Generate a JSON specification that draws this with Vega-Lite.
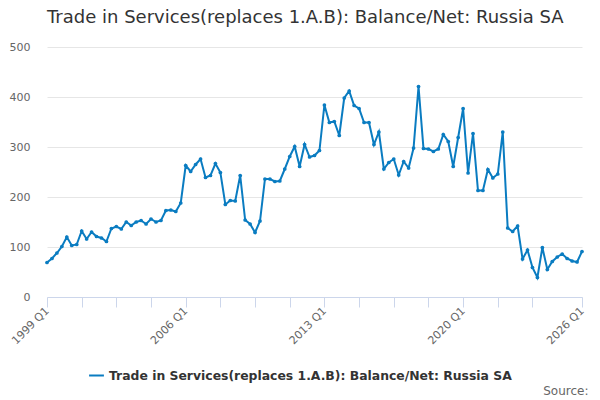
{
  "$schema": "https://vega.github.io/schema/vega-lite/v6.json",
  "autosize": "none",
  "width": 535,
  "height": 250,
  "padding": {"left": 47, "top": 47, "right": 18, "bottom": 103},
  "background": "white",
  "title": {
    "text": "Trade in Services(replaces 1.A.B): Balance/Net: Russia SA",
    "anchor": "start",
    "frame": "group",
    "font": "DejaVu Sans",
    "fontSize": 18,
    "fontWeight": "normal",
    "color": "#333333",
    "baseline": "alphabetic",
    "offset": 0
  },
  "data": {
    "values": [
      {"quarter": "1999 Q1", "value": 69}, {"quarter": "1999 Q2", "value": 77}, {"quarter": "1999 Q3", "value": 88}, {"quarter": "1999 Q4", "value": 101},
      {"quarter": "2000 Q1", "value": 120}, {"quarter": "2000 Q2", "value": 103}, {"quarter": "2000 Q3", "value": 105}, {"quarter": "2000 Q4", "value": 132},
      {"quarter": "2001 Q1", "value": 116}, {"quarter": "2001 Q2", "value": 130}, {"quarter": "2001 Q3", "value": 121}, {"quarter": "2001 Q4", "value": 118},
      {"quarter": "2002 Q1", "value": 111}, {"quarter": "2002 Q2", "value": 137}, {"quarter": "2002 Q3", "value": 141}, {"quarter": "2002 Q4", "value": 136},
      {"quarter": "2003 Q1", "value": 150}, {"quarter": "2003 Q2", "value": 143}, {"quarter": "2003 Q3", "value": 150}, {"quarter": "2003 Q4", "value": 153},
      {"quarter": "2004 Q1", "value": 146}, {"quarter": "2004 Q2", "value": 156}, {"quarter": "2004 Q3", "value": 150}, {"quarter": "2004 Q4", "value": 153},
      {"quarter": "2005 Q1", "value": 173}, {"quarter": "2005 Q2", "value": 174}, {"quarter": "2005 Q3", "value": 171}, {"quarter": "2005 Q4", "value": 188},
      {"quarter": "2006 Q1", "value": 263}, {"quarter": "2006 Q2", "value": 251}, {"quarter": "2006 Q3", "value": 265}, {"quarter": "2006 Q4", "value": 276},
      {"quarter": "2007 Q1", "value": 239}, {"quarter": "2007 Q2", "value": 243}, {"quarter": "2007 Q3", "value": 267}, {"quarter": "2007 Q4", "value": 249},
      {"quarter": "2008 Q1", "value": 185}, {"quarter": "2008 Q2", "value": 193}, {"quarter": "2008 Q3", "value": 192}, {"quarter": "2008 Q4", "value": 243},
      {"quarter": "2009 Q1", "value": 154}, {"quarter": "2009 Q2", "value": 146}, {"quarter": "2009 Q3", "value": 129}, {"quarter": "2009 Q4", "value": 152},
      {"quarter": "2010 Q1", "value": 236}, {"quarter": "2010 Q2", "value": 236}, {"quarter": "2010 Q3", "value": 231}, {"quarter": "2010 Q4", "value": 232},
      {"quarter": "2011 Q1", "value": 256}, {"quarter": "2011 Q2", "value": 281}, {"quarter": "2011 Q3", "value": 301}, {"quarter": "2011 Q4", "value": 261},
      {"quarter": "2012 Q1", "value": 305}, {"quarter": "2012 Q2", "value": 280}, {"quarter": "2012 Q3", "value": 283}, {"quarter": "2012 Q4", "value": 293},
      {"quarter": "2013 Q1", "value": 384}, {"quarter": "2013 Q2", "value": 349}, {"quarter": "2013 Q3", "value": 351}, {"quarter": "2013 Q4", "value": 323},
      {"quarter": "2014 Q1", "value": 398}, {"quarter": "2014 Q2", "value": 412}, {"quarter": "2014 Q3", "value": 383}, {"quarter": "2014 Q4", "value": 377},
      {"quarter": "2015 Q1", "value": 349}, {"quarter": "2015 Q2", "value": 349}, {"quarter": "2015 Q3", "value": 305}, {"quarter": "2015 Q4", "value": 330},
      {"quarter": "2016 Q1", "value": 256}, {"quarter": "2016 Q2", "value": 269}, {"quarter": "2016 Q3", "value": 276}, {"quarter": "2016 Q4", "value": 244},
      {"quarter": "2017 Q1", "value": 271}, {"quarter": "2017 Q2", "value": 258}, {"quarter": "2017 Q3", "value": 298}, {"quarter": "2017 Q4", "value": 421},
      {"quarter": "2018 Q1", "value": 297}, {"quarter": "2018 Q2", "value": 296}, {"quarter": "2018 Q3", "value": 291}, {"quarter": "2018 Q4", "value": 296},
      {"quarter": "2019 Q1", "value": 325}, {"quarter": "2019 Q2", "value": 311}, {"quarter": "2019 Q3", "value": 261}, {"quarter": "2019 Q4", "value": 319},
      {"quarter": "2020 Q1", "value": 377}, {"quarter": "2020 Q2", "value": 248}, {"quarter": "2020 Q3", "value": 327}, {"quarter": "2020 Q4", "value": 213},
      {"quarter": "2021 Q1", "value": 213}, {"quarter": "2021 Q2", "value": 255}, {"quarter": "2021 Q3", "value": 238}, {"quarter": "2021 Q4", "value": 246},
      {"quarter": "2022 Q1", "value": 330}, {"quarter": "2022 Q2", "value": 138}, {"quarter": "2022 Q3", "value": 131}, {"quarter": "2022 Q4", "value": 142},
      {"quarter": "2023 Q1", "value": 76}, {"quarter": "2023 Q2", "value": 94}, {"quarter": "2023 Q3", "value": 59}, {"quarter": "2023 Q4", "value": 39},
      {"quarter": "2024 Q1", "value": 99}, {"quarter": "2024 Q2", "value": 55}, {"quarter": "2024 Q3", "value": 71}, {"quarter": "2024 Q4", "value": 80},
      {"quarter": "2025 Q1", "value": 86}, {"quarter": "2025 Q2", "value": 77}, {"quarter": "2025 Q3", "value": 72}, {"quarter": "2025 Q4", "value": 70},
      {"quarter": "2026 Q1", "value": 91}
    ]
  },
  "mark": {
    "type": "line",
    "strokeWidth": 2,
    "point": {"filled": true, "size": 14}
  },
  "encoding": {
    "x": {
      "field": "quarter",
      "type": "ordinal",
      "scale": {"type": "point", "padding": 0},
      "axis": {
        "title": "Source:",
        "titleAnchor": "end",
        "titleAlign": "right",
        "titleBaseline": "alphabetic",
        "titleX": 541,
        "titleY": 97,
        "titleFont": "DejaVu Sans",
        "titleFontSize": 12,
        "titleFontWeight": "normal",
        "titleColor": "#666666",
        "values": ["1999 Q1", "2000 Q4", "2002 Q3", "2004 Q2", "2006 Q1", "2007 Q4", "2009 Q3", "2011 Q2", "2013 Q1", "2014 Q4", "2016 Q3", "2018 Q2", "2020 Q1", "2021 Q4", "2023 Q3", "2026 Q1"],
        "labelExpr": "indexof(['1999 Q1', '2006 Q1', '2013 Q1', '2020 Q1', '2026 Q1'], datum.value) >= 0 ? datum.value : ''",
        "labelAngle": -45,
        "labelAlign": "right",
        "labelBaseline": "middle",
        "labelPadding": 2,
        "labelFont": "DejaVu Sans",
        "labelFontSize": 11,
        "labelColor": "#666666",
        "domainColor": "#ccd6eb",
        "tickColor": "#ccd6eb",
        "tickSize": 10,
        "grid": false
      }
    },
    "y": {
      "field": "value",
      "type": "quantitative",
      "scale": {"domain": [0, 500], "nice": false},
      "axis": {
        "title": null,
        "values": [0, 100, 200, 300, 400, 500],
        "domain": false,
        "ticks": false,
        "labelPadding": 17,
        "labelFont": "DejaVu Sans",
        "labelFontSize": 11,
        "labelColor": "#666666",
        "gridColor": "#e6e6e6"
      }
    },
    "color": {
      "datum": "Trade in Services(replaces 1.A.B): Balance/Net: Russia SA",
      "scale": {"range": ["#0a7cc1"]},
      "legend": {
        "title": null,
        "orient": "none",
        "legendX": 41,
        "legendY": 320,
        "symbolType": "stroke",
        "symbolSize": 220,
        "symbolStrokeWidth": 2,
        "labelFont": "DejaVu Sans",
        "labelFontSize": 12.4,
        "labelFontWeight": "bold",
        "labelColor": "#333333",
        "labelLimit": 0
      }
    }
  },
  "config": {"view": {"stroke": null}}
}
